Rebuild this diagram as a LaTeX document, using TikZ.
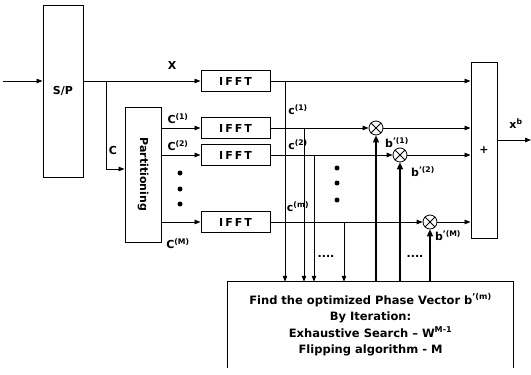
\documentclass[tikz,border=0pt]{standalone}
\usepackage{fontspec}
\setmainfont{DejaVu Sans}
\usetikzlibrary{arrows.meta}
\tikzset{
  slm block/.style={draw, line width=1pt, inner sep=0pt, font=\fontsize{11}{13}\selectfont\bfseries},
  slm fft/.style={slm block, minimum width=69pt, minimum height=21pt, font=\fontsize{11}{13}\selectfont\bfseries\addfontfeature{LetterSpace=18}},
  slm mult/.style={circle, draw, line width=0.8pt, minimum size=14pt, inner sep=0pt},
  slm line/.style={draw, line width=0.8pt},
  slm arrow/.style={slm line, -{Triangle[length=6pt,width=4.5pt]}},
  slm feed/.style={draw, line width=1.8pt, -{Triangle[length=7pt,width=6pt]}},
  slm label/.style={inner sep=0pt, font=\fontsize{11}{13}\selectfont\bfseries},
}

\begin{document}
\begin{tikzpicture}[x=1pt,y=-1pt]
  \useasboundingbox (0,0) rectangle (531,375);
  % serial to parallel and partitioning
  \coordinate (in) at (3,81);
  \node[slm block, minimum width=40pt, minimum height=172pt] (sp) at (63,91) {S/P};
  \node[slm block, minimum width=36pt, minimum height=135pt] (part) at (143,174.5) {\rotatebox{-90}{Partitioning}};
  % IFFT blocks
  \foreach \n/\y in {f0/81,f1/128,f2/155,fm/222}
    \node[slm fft] (\n) at (235.5,\y) {IFFT};
  % combiner and multipliers
  \node[slm block, minimum width=26pt, minimum height=176pt] (sum) at (484,150) {+};
  \foreach \n/\x/\y in {m1/376/128,m2/400/155,mm/430/222} {
    \node[slm mult] (\n) at (\x,\y) {};
    \draw[line width=0.8pt] (\n.north west) -- (\n.south east) (\n.north east) -- (\n.south west);
  }
  \coordinate (out) at (531,140);
  % optimizer (open at the bottom)
  \node[slm label, font=\fontsize{11.5}{16.5}\selectfont\bfseries, minimum width=285pt, minimum height=86pt, align=center] (opt) at (370.5,325)
    {Find the optimized Phase Vector b\textsuperscript{'(m)}\\
     By Iteration:\\
     Exhaustive Search -- W\textsuperscript{M-1}\\
     Flipping algorithm - M};
  \draw[line width=1pt] (opt.south west) -- (opt.north west) -- (opt.north east) -- (opt.south east);

  % signal paths
  \draw[slm arrow] (in) -- (in -| sp.west);
  \draw[slm arrow] (f0.west -| sp.east) -- (f0.west);
  \coordinate (split) at (106,81);
  \coordinate (cin) at (106,169);
  \draw[slm arrow] (split) -- (cin) -- (cin -| part.west);
  \foreach \n in {f1,f2,fm}
    \draw[slm arrow] (\n.west -| part.east) -- (\n.west);
  \draw[slm arrow] (f0.east) -- (f0.east -| sum.west);
  \foreach \f/\m in {f1/m1,f2/m2,fm/mm} {
    \draw[slm arrow] (\f.east) -- (\m.west);
    \draw[slm arrow] (\m.east) -- (\m.east -| sum.west);
    \draw[slm feed] (\m |- opt.north) -- (\m.south);
  }
  \draw[slm arrow] (sum.east |- out) -- (out);
  % taps to the optimizer
  \foreach \f/\x in {f0/285,f1/304,f2/314,fm/344} {
    \coordinate (tap\f) at (\f.east -| \x,0);
    \draw[slm arrow] (tap\f) -- (tap\f |- opt.north);
  }

  % labels
  \node[slm label] (lx) at (172,65) {X};
  \node[slm label] (lc) at (113,150) {C};
  \node[slm label] (lc1) at (178,119) {C\textsuperscript{(1)}};
  \node[slm label] (lc2) at (178,146) {C\textsuperscript{(2)}};
  \node[slm label] (lcm) at (178,244) {C\textsuperscript{(M)}};
  \node[slm label] (rc1) at (298,110) {c\textsuperscript{(1)}};
  \node[slm label] (rc2) at (298,145) {c\textsuperscript{(2)}};
  \node[slm label] (rcm) at (298,207) {c\textsuperscript{(m)}};
  \node[slm label] (lb1) at (397,143) {b\textsuperscript{'(1)}};
  \node[slm label] (lb2) at (423,172) {b\textsuperscript{'(2)}};
  \node[slm label] (lbm) at (448,236) {b\textsuperscript{'(M)}};
  \node[slm label] (lxb) at (516,124) {x\textsuperscript{b}};
  \node[slm label] (ld1) at (326,256) {....};
  \node[slm label] (ld2) at (415,256) {....};
  \foreach \y in {173,189,204}
    \fill (180,\y) circle [radius=2.5pt];
  \foreach \y in {168,183,200}
    \fill (337,\y) circle [radius=2.5pt];
\end{tikzpicture}
\end{document}
